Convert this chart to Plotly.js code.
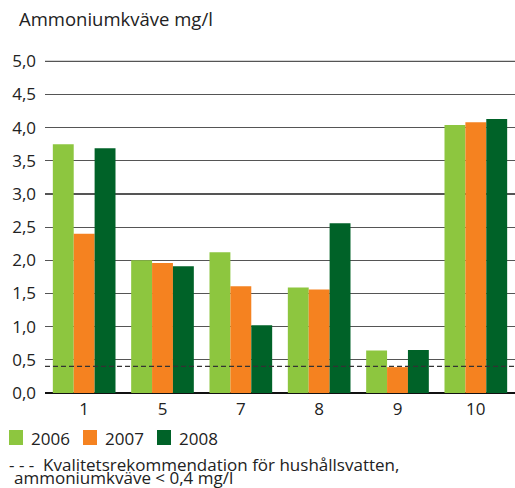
<!DOCTYPE html>
<html>
<head>
<meta charset="utf-8">
<script src="https://cdn.plot.ly/plotly-3.0.1.min.js"></script>
<style>
  html, body { margin: 0; padding: 0; background: #fff; }
  #chart { width: 515px; height: 488px; }
</style>
</head>
<body>
<div id="chart"></div>
<script>
// ── Data ──────────────────────────────────────────────────────
const CATEGORIES = ["1", "5", "7", "8", "9", "10"];
const YEARS = ["2006", "2007", "2008"];
const VALUES_2006 = [3.75, 2.00, 2.12, 1.59, 0.64, 4.04];
const VALUES_2007 = [2.40, 1.96, 1.61, 1.56, 0.39, 4.08];
const VALUES_2008 = [3.69, 1.91, 1.02, 2.56, 0.65, 4.13];
const LIMIT = 0.4; // kvalitetsrekommendation, mg/l
const Y_TICKS = [0, 0.5, 1, 1.5, 2, 2.5, 3, 3.5, 4, 4.5, 5];

const COLORS = ["#8dc63f", "#f58220", "#006228"];
const FONT = "Open Sans, Noto Sans, sans-serif";
const TEXT = "#222";
const GRID = "#555";

const series = [VALUES_2006, VALUES_2007, VALUES_2008];

const traces = series.map((vals, i) => ({
  type: "bar",
  name: YEARS[i],
  x: CATEGORIES,
  y: vals,
  marker: { color: COLORS[i], line: { width: 0 } },
  hoverinfo: "skip",
}));

// ── Legend drawn by hand (bigger keys, tighter text than Plotly's) ──
const LEGEND_STEP = 74;
const legendShapes = YEARS.map((yr, i) => ({
  type: "rect", xref: "paper", yref: "paper",
  xsizemode: "pixel", ysizemode: "pixel",
  xanchor: 0, yanchor: 0,
  x0: -36 + i * LEGEND_STEP, x1: -22 + i * LEGEND_STEP,
  y0: -37, y1: -52,
  fillcolor: COLORS[i], line: { width: 0 },
}));
const legendTexts = YEARS.map((yr, i) => ({
  text: yr,
  xref: "paper", yref: "paper", x: 0, xshift: -16 + i * LEGEND_STEP,
  y: 0, yshift: -45,
  xanchor: "left", yanchor: "middle", showarrow: false,
  font: { family: FONT, size: 17, color: TEXT },
}));

const layout = {
  width: 515,
  height: 488,
  margin: { l: 45, r: 0, t: 58, b: 95 },
  paper_bgcolor: "#fff",
  plot_bgcolor: "#fff",
  separators: ",.",
  font: { family: FONT, size: 17, color: TEXT },
  barmode: "group",
  bargap: 0.2,
  bargroupgap: 0,
  showlegend: false,
  xaxis: {
    type: "category",
    showgrid: false,
    zeroline: false,
    showline: false,
    ticks: "",
    ticklabelstandoff: 4,
    tickfont: { family: FONT, size: 17, color: TEXT },
  },
  yaxis: {
    range: [0, 5.05],
    tickvals: Y_TICKS,
    tickformat: ".1f",
    showgrid: true,
    gridcolor: GRID,
    gridwidth: 1.2,
    zeroline: true,
    zerolinecolor: "#111",
    zerolinewidth: 1.6,
    showline: false,
    ticks: "",
    ticklabelstandoff: 8,
    tickfont: { family: FONT, size: 17, color: TEXT },
  },
  shapes: [
    // top gridline (Plotly drops it at the range edge)
    {
      type: "line", xref: "paper", yref: "y", layer: "below",
      x0: 0, x1: 1,
      y0: Y_TICKS[Y_TICKS.length - 1], y1: Y_TICKS[Y_TICKS.length - 1],
      line: { color: GRID, width: 1.2 },
    },
    {
      type: "line", xref: "paper", yref: "y",
      x0: 0, x1: 1, y0: LIMIT, y1: LIMIT,
      line: { color: "#333", width: 1.2, dash: "5px,3px" },
    },
    ...legendShapes,
  ],
  annotations: [
    {
      text: "Ammoniumkväve mg/l",
      xref: "paper", yref: "paper", x: 0, xshift: -28, y: 1.0, yshift: 40,
      xanchor: "left", yanchor: "middle", showarrow: false,
      font: { family: FONT, size: 18.5, color: TEXT },
    },
    ...legendTexts,
    {
      text: "- - -  Kvalitetsrekommendation för hushållsvatten,",
      xref: "paper", yref: "paper", x: 0, xshift: -38, y: 0, yshift: -71,
      xanchor: "left", yanchor: "middle", showarrow: false,
      font: { family: FONT, size: 17, color: TEXT },
    },
    {
      text: "ammoniumkväve < 0,4 mg/l",
      xref: "paper", yref: "paper", x: 0, xshift: -33, y: 0, yshift: -84,
      xanchor: "left", yanchor: "middle", showarrow: false,
      font: { family: FONT, size: 17, color: TEXT },
    },
  ],
};

Plotly.newPlot("chart", traces, layout, { staticPlot: true, displayModeBar: false });
</script>
</body>
</html>
